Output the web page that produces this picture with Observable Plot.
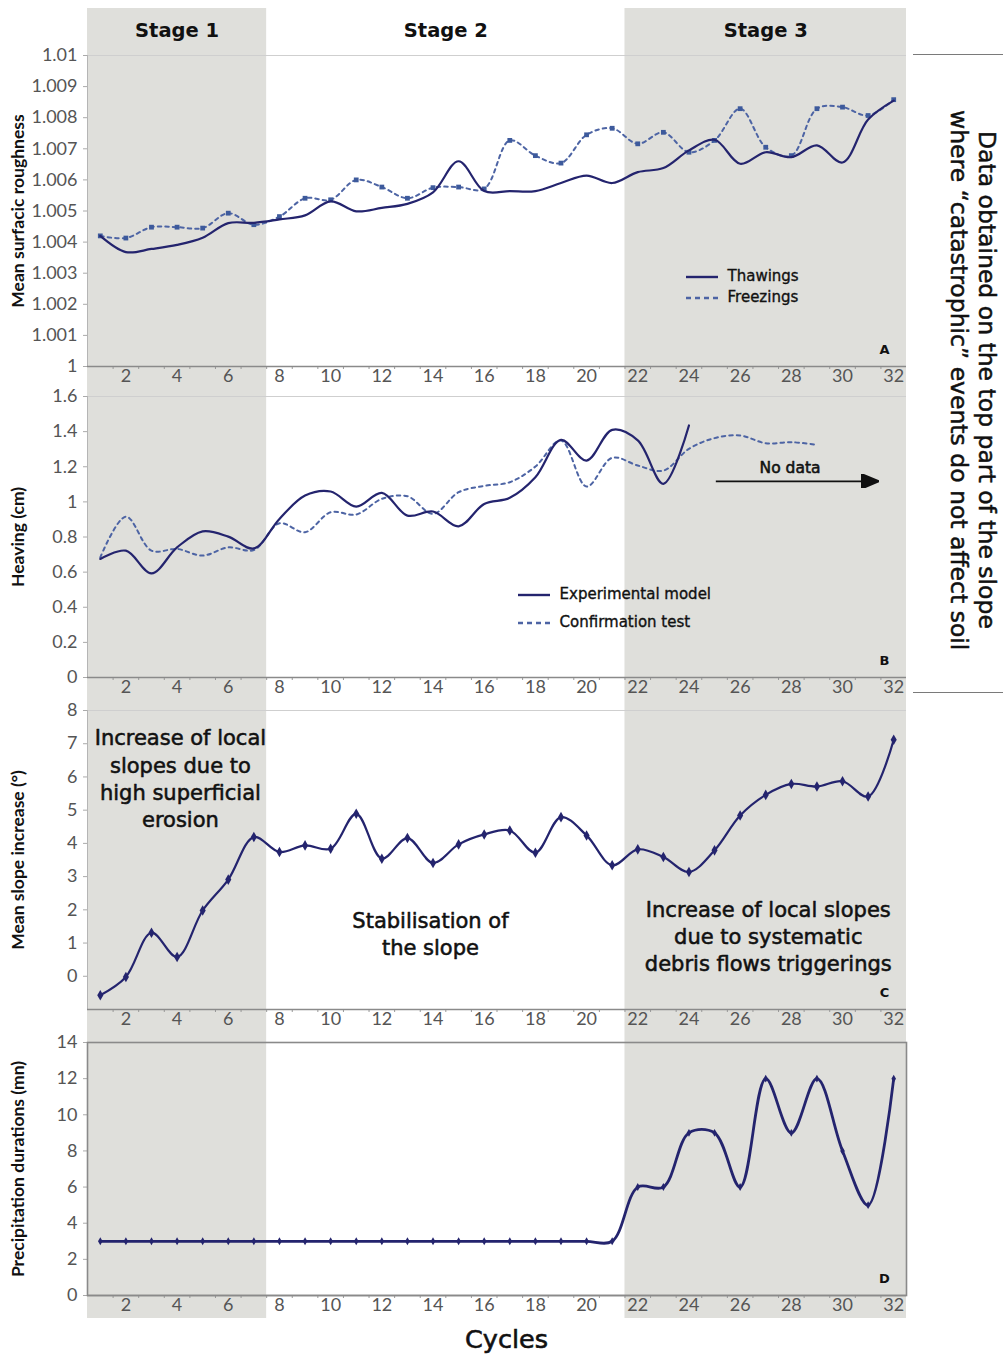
<!DOCTYPE html>
<html>
<head>
<meta charset="utf-8">
<script src="https://cdn.jsdelivr.net/npm/d3@7"></script>
<script src="https://cdn.jsdelivr.net/npm/@observablehq/plot@0.6"></script>
<style>
  html, body { margin: 0; padding: 0; background: #fff; }
  #wrap { position: relative; width: 1003px; height: 1355px; font-family: "DejaVu Sans", sans-serif; overflow: hidden; }
  .panel { position: absolute; left: 0; }
  .hline { position: absolute; left: 913px; width: 90px; height: 0; border-top: 1.5px solid #7a7a7a; }
  #side { position: absolute; left: 943px; top: 95px; width: 58px; height: 570px; writing-mode: vertical-rl; text-align: center;
          font-size: 23.5px; line-height: 28px; color: #111; -webkit-text-stroke: 0.5px #111; }
  #cycles { position: absolute; left: 0; width: 1003px; top: 1325px; height: 28px; line-height: 28px; text-align: center; padding-left: 10px; box-sizing: border-box;
            font-size: 25.5px; color: #111; -webkit-text-stroke: 0.6px #111; }
  .legend { position: absolute; font-size: 15px; color: #111; -webkit-text-stroke: 0.35px #111; }
  .legend svg { vertical-align: middle; }
</style>
</head>
<body>
<div id="wrap"></div>
<script>
// ---------- data ----------
const cycles = [1,2,3,4,5,6,7,8,9,10,11,12,13,14,15,16,17,18,19,20,21,22,23,24,25,26,27,28,29,30,31,32];
const xTickLabels = [2,4,6,8,10,12,14,16,18,20,22,24,26,28,30,32];

const stageNames = ["Stage 1", "Stage 2", "Stage 3"];
const stageStarts = [0.5, 7.5, 21.5];
const stageEnds = [7.5, 21.5, 32.5];
const stageShaded = [true, false, true];

// Panel A: mean surfacic roughness
const thawings = [1.0042,1.00368,1.00378,1.00391,1.00414,1.00461,1.00462,1.00473,1.00486,1.00531,1.00499,1.0051,1.00523,1.0056,1.0066,1.00564,
                  1.00564,1.00564,1.0059,1.00614,1.0059,1.00625,1.00638,1.00695,1.00729,1.00652,1.00689,1.00673,1.00711,1.00656,1.00794,1.00855];
const freezings = [1.0042,1.00413,1.00448,1.00448,1.00445,1.00493,1.00456,1.00482,1.00541,1.00536,1.006,1.00577,1.00541,1.00575,1.00577,1.00571,
                   1.00727,1.00678,1.00654,1.00745,1.00766,1.00716,1.00753,1.00689,1.00727,1.00829,1.00705,1.00678,1.00829,1.00834,1.00807,1.00858];
const yTicksA = [1, 1.001, 1.002, 1.003, 1.004, 1.005, 1.006, 1.007, 1.008, 1.009, 1.01];

// Panel B: heaving (cm)
const experimental = [0.675,0.722,0.593,0.741,0.832,0.802,0.735,0.903,1.036,1.059,0.973,1.051,0.922,0.945,0.861,0.988,
                      1.023,1.14,1.353,1.235,1.41,1.35,1.103,1.435];
const confirmation = [0.684,0.916,0.722,0.732,0.694,0.741,0.726,0.878,0.827,0.941,0.928,1.017,1.032,0.932,1.055,1.091,
                      1.112,1.201,1.35,1.087,1.251,1.207,1.178,1.302,1.363,1.378,1.334,1.34,1.325];
const yTicksB = [0, 0.2, 0.4, 0.6, 0.8, 1, 1.2, 1.4, 1.6];

// Panel C: mean slope increase (°)
const slopeIncrease = [-0.57,-0.02,1.31,0.58,1.98,2.91,4.19,3.74,3.94,3.84,4.89,3.54,4.16,3.41,3.97,4.27,
                       4.39,3.72,4.79,4.24,3.34,3.82,3.59,3.14,3.79,4.84,5.46,5.79,5.71,5.87,5.41,7.12];
const yTicksC = [0, 1, 2, 3, 4, 5, 6, 7, 8];

// Panel D: precipitation durations (mn)
const precipitation = [3,3,3,3,3,3,3,3,3,3,3,3,3,3,3,3,3,3,3,3,3,6,6,9,9,6,12,9,12,8,5,12];
const yTicksD = [0, 2, 4, 6, 8, 10, 12, 14];

// ---------- tables built from the arrays ----------
const stages = stageNames.map((name, i) => ({name, start: stageStarts[i], end: stageEnds[i], shaded: stageShaded[i]}));
const halfTicks = d3.range(1.5, 32.5, 1);
const rowsA = cycles.map((c, i) => ({c, thaw: thawings[i], freeze: freezings[i]}));
const rowsExp = experimental.map((v, i) => ({c: cycles[i], v}));
const rowsConf = confirmation.map((v, i) => ({c: cycles[i], v}));
const rowsC = cycles.map((c, i) => ({c, v: slopeIncrease[i]}));
const rowsD = cycles.map((c, i) => ({c, v: precipitation[i]}));

const NAVY = "#24246e";
const DASH = "#4d64a4";
const TICKFONT = "Lato, 'DejaVu Sans', sans-serif";
const TEXTFONT = "'DejaVu Sans', sans-serif";
const INK = "#111";

function fmt(d) { return String(+d.toFixed(4)); }

function filledArrow(color) {
  const m = d3.create("svg:marker")
    .attr("viewBox", "0 -5 12 10")
    .attr("markerUnits", "userSpaceOnUse")
    .attr("markerWidth", 18).attr("markerHeight", 14)
    .attr("refX", 10).attr("refY", 0)
    .attr("orient", "auto");
  m.append("path").attr("d", "M0,-5L12,0L0,5Z").attr("fill", color);
  return m.node();
}

function note(str, x, y, size) {
  return Plot.text([str], {text: d => d, x: [x], y: [y], fontSize: size, fontFamily: TEXTFONT, lineHeight: 1.3,
                           textAnchor: "middle", lineAnchor: "middle", fill: INK, stroke: INK, strokeWidth: 0.55});
}

function panel(o) {
  const marks = [
    Plot.rect(stages.filter(d => d.shaded), {x1: "start", x2: "end", fill: "#dfdfdb", insetTop: -o.mt, insetBottom: -o.mb}),
    Plot.ruleY([o.yDomain[1]], {stroke: "#cfcfcf", strokeWidth: 1}),
    Plot.ruleX([0.5], {stroke: "#b5b5b5", strokeWidth: 1}),
    Plot.axisY({ticks: o.yTicks, tickSize: 4, tickPadding: 6, fontSize: 18, fill: "#555", stroke: "#aaa", label: null, tickFormat: fmt}),
    Plot.axisX({ticks: halfTicks, tickSize: 3, tickFormat: () => "", stroke: "#999", label: null}),
    Plot.axisX({ticks: xTickLabels, tickSize: 0, tickPadding: 3, fontSize: 18, fill: "#555", label: null}),
    Plot.ruleY([o.yDomain[0]], {stroke: "#8a8a8a", strokeWidth: 1.6}),
    Plot.text([o.title], {text: d => d, frameAnchor: "left", textAnchor: "middle", lineAnchor: "middle", dx: -69, rotate: -90,
                          fontSize: 17.5, fontWeight: 700, fontFamily: TICKFONT, fill: INK}),
    Plot.text([o.letter], {text: d => d, frameAnchor: "bottom-right", textAnchor: "middle", lineAnchor: "middle", dx: -22, dy: -17,
                           fontSize: 13, fontWeight: 700, fontFamily: TEXTFONT, fill: INK}),
    ...o.marks
  ];
  const svg = Plot.plot({
    width: 1003, height: o.height,
    marginLeft: 87, marginRight: 97, marginTop: o.mt, marginBottom: o.mb,
    style: {background: "transparent", fontFamily: TICKFONT, overflow: "visible"},
    x: {domain: [0.5, 32.5]},
    y: {domain: o.yDomain},
    marks
  });
  svg.classList.add("panel");
  svg.style.top = o.top + "px";
  svg.style.position = "absolute";
  return svg;
}

const wrap = document.getElementById("wrap");

// Panel A
wrap.appendChild(panel({
  top: 8, height: 380, mt: 47, mb: 22, yDomain: [1, 1.01], yTicks: yTicksA,
  title: "Mean surfacic roughness", letter: "A",
  marks: [
    Plot.text(stages, {x: d => (d.start + d.end) / 2, text: "name", frameAnchor: "top", textAnchor: "middle", lineAnchor: "middle", dy: -25,
                       fontSize: 19.5, fontWeight: 700, fontFamily: TEXTFONT, fill: INK}),
    Plot.line(rowsA, {x: "c", y: "freeze", stroke: DASH, strokeWidth: 2, strokeDasharray: "3.5,4", curve: "catmull-rom"}),
    Plot.dot(rowsA, {x: "c", y: "freeze", symbol: "square", r: 2.7, fill: "#3d5a9c"}),
    Plot.line(rowsA, {x: "c", y: "thaw", stroke: NAVY, strokeWidth: 2.2, curve: "catmull-rom"})
  ]
}));

// Panel B
wrap.appendChild(panel({
  top: 388, height: 312, mt: 8, mb: 23, yDomain: [0, 1.6], yTicks: yTicksB,
  title: "Heaving (cm)", letter: "B",
  marks: [
    Plot.line(rowsConf, {x: "c", y: "v", stroke: DASH, strokeWidth: 2, strokeDasharray: "3.5,4", curve: "catmull-rom"}),
    Plot.line(rowsExp, {x: "c", y: "v", stroke: NAVY, strokeWidth: 2.2, curve: "catmull-rom"}),
    Plot.link([{x1: 25.05, x2: 31.3, y: 1.117}], {x1: "x1", x2: "x2", y1: "y", y2: "y", stroke: "#111", strokeWidth: 1.6, markerEnd: filledArrow}),
    note("No data", 27.95, 1.2, 15.5)
  ]
}));

// Panel C
wrap.appendChild(panel({
  top: 700, height: 334, mt: 10, mb: 25, yDomain: [-1, 8], yTicks: yTicksC,
  title: "Mean slope increase (°)", letter: "C",
  marks: [
    Plot.line(rowsC, {x: "c", y: "v", stroke: NAVY, strokeWidth: 2.2, curve: "catmull-rom"}),
    Plot.dot(rowsC, {x: "c", y: "v", symbol: "diamond", r: 3.2, fill: NAVY}),
    note("Increase of local\nslopes due to\nhigh superficial\nerosion", 4.13, 5.98, 21),
    note("Stabilisation of\nthe slope", 13.9, 1.32, 21),
    note("Increase of local slopes\ndue to systematic\ndebris flows triggerings", 27.1, 1.23, 21)
  ]
}));

// Panel D
wrap.appendChild(panel({
  top: 1034, height: 284, mt: 8, mb: 23, yDomain: [0, 14], yTicks: yTicksD,
  title: "Precipitation durations (mn)", letter: "D",
  marks: [
    Plot.frame({stroke: "#8a8a8a", strokeWidth: 1.6}),
    Plot.line(rowsD, {x: "c", y: "v", stroke: NAVY, strokeWidth: 2.8, curve: "catmull-rom"}),
    Plot.dot(rowsD, {x: "c", y: "v", symbol: "diamond", r: 2.4, fill: NAVY})
  ]
}));

// Overlays: side note, bracket lines, legends, x title
wrap.insertAdjacentHTML("beforeend", `
  <div class="hline" style="top:54px"></div>
  <div class="hline" style="top:692px"></div>
  <div id="side">Data obtained on the top part of the slope<br>where \u201ccatastrophic\u201d events do not affect soil</div>
  <div id="cycles">Cycles</div>
  <div class="legend" style="left:686px; top:267px;">
    <div style="height:21px"><svg width="32" height="4"><line x1="0" x2="32" y1="2" y2="2" stroke="${NAVY}" stroke-width="2.4"/></svg>&nbsp;&nbsp;Thawings</div>
    <div style="height:21px"><svg width="32" height="4"><line x1="0" x2="32" y1="2" y2="2" stroke="${DASH}" stroke-width="2.4" stroke-dasharray="5,4"/></svg>&nbsp;&nbsp;Freezings</div>
  </div>
  <div class="legend" style="left:518px; top:585px;">
    <div style="height:28px"><svg width="32" height="4"><line x1="0" x2="32" y1="2" y2="2" stroke="${NAVY}" stroke-width="2.4"/></svg>&nbsp;&nbsp;Experimental model</div>
    <div style="height:28px"><svg width="32" height="4"><line x1="0" x2="32" y1="2" y2="2" stroke="${DASH}" stroke-width="2.4" stroke-dasharray="5,4"/></svg>&nbsp;&nbsp;Confirmation test</div>
  </div>
`);
</script>
</body>
</html>
